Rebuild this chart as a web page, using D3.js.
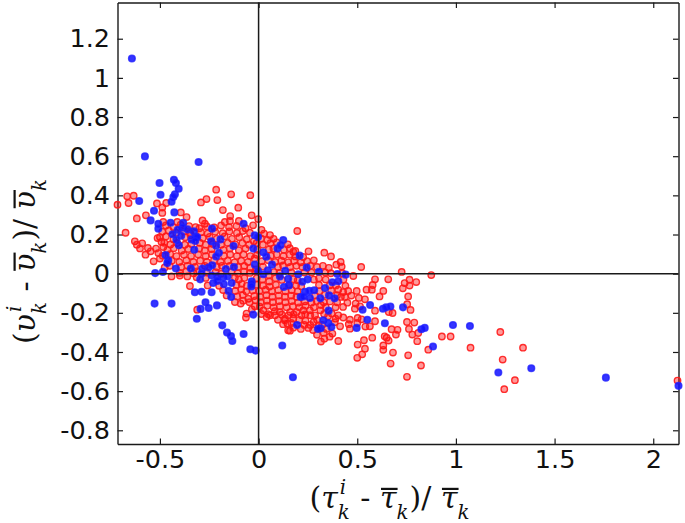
<!DOCTYPE html>
<html>
<head>
<meta charset="utf-8">
<script src="https://cdn.jsdelivr.net/npm/d3@7"></script>
<style>
  html, body { margin: 0; padding: 0; background: #fff; }
  svg { display: block; }
</style>
</head>
<body>
<div id="chart"></div>
<script>
// values: [tau, v]
const bluePoints = [
  [-0.642,1.099],[-0.576,0.599],[-0.304,0.570],[-0.429,0.480],[-0.419,0.463],[-0.405,0.434],[-0.502,0.463],[-0.424,0.405],
  [-0.497,0.403],[-0.432,0.391],[-0.441,0.367],[-0.605,0.371],[-0.530,0.321],[-0.427,0.313],[-0.547,0.272],[-0.508,0.255],
  [-0.446,0.260],[-0.382,0.260],[-0.508,0.230],[-0.385,0.235],[-0.410,0.224],[-0.360,0.226],[-0.436,0.201],[-0.392,0.194],
  [-0.328,0.216],[-0.318,0.187],[-0.416,0.173],[-0.340,0.175],[-0.311,0.187],[-0.321,0.167],[-0.404,0.145],[-0.236,0.230],
  [-0.240,0.165],[-0.193,0.175],[-0.215,0.143],[-0.127,0.141],[-0.326,0.122],[-0.201,0.107],[-0.215,0.088],[-0.471,0.095],
  [-0.458,0.068],[-0.463,0.054],[-0.419,0.026],[-0.343,0.026],[-0.285,0.026],[-0.253,0.031],[-0.235,0.043],[-0.166,0.024],
  [-0.125,0.034],[-0.524,0.003],[-0.485,0.009],[-0.289,0.000],[-0.296,-0.029],[-0.238,-0.009],[-0.209,-0.014],[-0.230,-0.048],
  [-0.209,-0.037],[-0.179,-0.020],[-0.157,-0.014],[-0.176,-0.054],[-0.137,-0.048],[-0.152,-0.088],[-0.139,-0.119],[-0.323,-0.095],
  [-0.289,-0.092],[-0.238,-0.095],[-0.527,-0.153],[-0.441,-0.153],[-0.269,-0.146],[-0.294,-0.180],[-0.253,-0.175],[-0.211,-0.162],
  [-0.313,-0.230],[-0.184,-0.264],[-0.160,-0.301],[-0.140,-0.318],[-0.133,-0.344],[-0.076,-0.308],[-0.042,-0.386],[-0.015,-0.393],
  [-0.027,-0.209],[0.120,-0.367],[-0.076,0.255],[-0.020,0.196],[-0.003,0.187],[-0.027,0.128],[0.024,0.109],[0.039,0.087],
  [-0.019,0.046],[-0.003,0.014],[-0.035,-0.039],[-0.035,-0.051],[-0.037,-0.065],[0.024,-0.003],[0.047,0.017],[0.068,0.046],
  [0.096,0.128],[0.111,0.145],[0.125,0.172],[0.108,-0.014],[0.135,0.014],[0.128,-0.068],[0.150,-0.026],[0.154,-0.060],
  [0.208,0.092],[0.244,0.031],[0.201,-0.003],[0.306,0.010],[0.249,-0.029],[0.222,-0.041],[0.399,-0.002],[0.441,-0.005],
  [0.404,-0.039],[0.374,-0.044],[0.337,-0.073],[0.235,-0.092],[0.282,-0.085],[0.257,-0.088],[0.213,-0.119],[0.227,-0.117],
  [0.260,-0.124],[0.313,-0.126],[0.357,-0.111],[0.385,-0.126],[0.355,-0.189],[0.527,-0.184],[0.565,-0.160],[0.630,-0.179],
  [0.646,-0.172],[0.668,-0.168],[0.732,-0.172],[0.551,-0.235],[0.640,-0.253],[0.497,-0.277],[0.328,-0.238],[0.353,-0.252],
  [0.369,-0.272],[0.315,-0.279],[0.301,-0.282],[0.195,-0.262],[0.174,-0.529],[0.825,-0.284],[0.842,-0.277],[0.884,-0.372],
  [0.985,-0.262],[1.071,-0.267],[1.215,-0.505],[1.382,-0.483],[1.760,-0.531],[2.128,-0.573]
];

const redOuter = [
  [0.875,-0.007],[0.929,-0.321],[0.973,-0.321],[0.860,-0.388],[0.823,-0.469],[1.074,-0.378],[1.225,-0.298],[1.340,-0.378],
  [1.237,-0.439],[1.299,-0.544],[1.245,-0.590],[2.123,-0.546],[0.196,0.218],[0.253,0.114],[0.186,0.116],[0.333,0.107],
  [0.367,0.088],[0.416,0.060],[0.394,0.046],[0.421,0.036],[0.520,0.034],[0.480,-0.012],[0.590,-0.029],[0.578,-0.058],
  [0.547,-0.082],[0.574,-0.082],[0.657,-0.029],[0.725,0.009],[0.765,-0.031],[0.799,-0.043],[0.740,-0.048],[0.731,-0.075],
  [0.765,-0.061],[0.632,-0.088],[0.613,-0.116],[0.758,-0.116],[0.497,-0.088],[0.454,-0.088],[0.429,-0.094],[0.404,-0.082],
  [0.417,-0.119],[0.438,-0.119],[0.508,-0.124],[0.539,-0.131],[0.492,-0.153],[0.514,-0.167],[0.488,-0.179],[0.590,-0.189],
  [0.679,-0.201],[0.753,-0.156],[0.770,-0.185],[0.660,-0.196],[0.502,-0.226],[0.522,-0.233],[0.590,-0.243],[0.564,-0.269],
  [0.541,-0.270],[0.500,-0.252],[0.752,-0.247],[0.789,-0.250],[0.674,-0.284],[0.704,-0.287],[0.696,-0.311],[0.762,-0.282],
  [0.779,-0.311],[0.809,-0.303],[0.804,-0.345],[0.649,-0.327],[0.639,-0.320],[0.576,-0.327],[0.659,-0.342],[0.534,-0.340],
  [0.502,-0.362],[0.539,-0.383],[0.632,-0.367],[0.632,-0.389],[0.525,-0.412],[0.500,-0.430],[0.681,-0.403],[0.758,-0.417],
  [0.669,-0.459],[0.752,-0.527],[0.404,-0.344],[0.316,-0.347],[0.333,-0.332],[0.374,-0.306],[0.252,-0.277],[0.159,-0.291],
  [0.146,-0.255],[0.176,-0.230],[0.218,-0.213],[0.279,-0.247],[0.304,-0.264],[0.413,-0.269],[0.463,-0.281],[0.457,-0.258],
  [0.429,-0.224],[0.463,-0.235],[0.404,-0.213],[0.428,-0.170],[0.371,-0.204],[0.313,-0.187],[0.286,-0.213],[0.260,-0.187],
  [0.227,-0.187],[0.193,-0.196],[0.151,-0.213],[0.134,-0.230],[0.108,-0.196],[0.058,-0.213],[0.041,-0.221],
  [-0.715,0.352],[-0.666,0.395],[-0.633,0.398],[-0.659,0.361],[-0.617,0.282],[-0.571,0.298],[-0.515,0.359],[-0.468,0.361],
  [-0.488,0.338],[-0.488,0.310],[-0.674,0.209],[-0.627,0.165],[-0.617,0.148],[-0.590,0.155],[-0.601,0.129],[-0.561,0.131],
  [-0.547,0.114],[-0.573,0.097],[-0.532,0.063],[-0.508,0.105],[-0.500,0.077],[-0.292,0.364],[-0.264,0.381],[-0.215,0.429],
  [-0.209,0.376],[-0.139,0.405],[-0.042,0.401],[-0.181,0.325],[-0.103,0.337],[-0.144,0.294],[-0.100,0.269],[-0.035,0.298],
  [-0.002,0.279],[0.015,0.224],[-0.145,0.269],[-0.171,0.264],[-0.394,0.313],[-0.365,0.289],[-0.412,0.264],[-0.284,0.272],
  [-0.272,0.255],[-0.319,0.238],[-0.483,0.264],[-0.500,0.187],[-0.492,0.162],[-0.483,0.136],[-0.441,-0.014],[-0.399,-0.010],
  [-0.348,-0.063],[-0.361,-0.014],[-0.311,-0.184],[-0.162,-0.111],[-0.120,-0.145],[-0.091,-0.153],[-0.061,-0.204],[-0.064,-0.224],
  [-0.019,-0.167],[0.024,-0.187],[0.049,-0.207],[0.083,-0.213],[0.133,-0.238],[0.150,-0.289],[-0.052,-0.128]
];

// the dense part of the cloud, read by eye row by row
const redCloud = [
  [-0.470,0.246],[-0.432,0.238],[-0.395,0.250],[-0.352,0.243],[-0.300,0.232],[-0.262,0.241],[-0.225,0.236],[-0.190,0.246],[-0.150,0.238],[-0.112,0.244],[-0.066,0.232],[-0.028,0.247],
  [-0.488,0.214],[-0.455,0.221],[-0.418,0.209],[-0.378,0.216],[-0.346,0.206],[-0.292,0.212],[-0.258,0.205],[-0.220,0.214],[-0.182,0.207],[-0.148,0.216],[-0.110,0.208],[-0.080,0.218],[-0.044,0.209],[0.028,0.205],[0.058,0.197],
  [-0.512,0.182],[-0.470,0.190],[-0.432,0.176],[-0.372,0.186],[-0.345,0.196],[-0.283,0.182],[-0.248,0.188],[-0.212,0.178],[-0.172,0.190],[-0.135,0.178],[-0.098,0.186],[-0.060,0.176],[-0.024,0.165],[0.012,0.180],[0.045,0.172],[0.076,0.178],
  [-0.478,0.158],[-0.447,0.149],[-0.412,0.156],[-0.374,0.148],[-0.340,0.152],[-0.298,0.158],[-0.268,0.148],[-0.232,0.152],[-0.190,0.148],[-0.156,0.157],[-0.118,0.150],[-0.082,0.156],[-0.048,0.148],[-0.010,0.156],[0.022,0.148],[0.060,0.156],[0.092,0.160],[0.148,0.150],
  [-0.520,0.128],[-0.462,0.122],[-0.430,0.130],[-0.390,0.118],[-0.356,0.126],[-0.302,0.128],[-0.272,0.118],[-0.238,0.126],[-0.178,0.122],[-0.146,0.128],[-0.100,0.120],[-0.066,0.128],[-0.006,0.122],[0.052,0.124],[0.075,0.128],[0.128,0.122],[0.158,0.130],[0.176,0.112],
  [-0.486,0.092],[-0.448,0.100],[-0.416,0.090],[-0.378,0.096],[-0.342,0.090],[-0.306,0.098],[-0.268,0.090],[-0.236,0.098],[-0.176,0.092],[-0.144,0.098],[-0.110,0.090],[-0.076,0.098],[-0.042,0.090],[-0.008,0.096],[0.062,0.092],[0.092,0.098],[0.126,0.090],[0.158,0.096],[0.186,0.088],[0.226,0.085],
  [-0.440,0.066],[-0.402,0.060],[-0.366,0.068],[-0.330,0.060],[-0.296,0.066],[-0.262,0.060],[-0.226,0.068],[-0.192,0.060],[-0.156,0.066],[-0.122,0.058],[-0.088,0.066],[-0.054,0.060],[-0.020,0.078],[0.016,0.064],[0.050,0.068],[0.084,0.060],[0.116,0.066],[0.150,0.058],[0.180,0.066],[0.214,0.058],[0.246,0.064],[0.280,0.068],
  [-0.476,0.032],[-0.450,0.040],[-0.392,0.034],[-0.360,0.040],[-0.322,0.034],[-0.272,0.040],[-0.212,0.034],[-0.186,0.040],[-0.146,0.040],[-0.104,0.034],[-0.072,0.040],[-0.042,0.030],[-0.012,0.022],[0.022,0.036],[0.098,0.034],[0.124,0.042],[0.160,0.034],[0.192,0.040],[0.222,0.034],[0.262,0.040],[0.296,0.034],[0.326,0.040],[0.356,0.030],
  [-0.400,0.004],[-0.366,0.012],[-0.330,0.002],[-0.312,0.012],[-0.262,0.006],[-0.218,0.008],[-0.190,0.000],[-0.138,0.008],[-0.106,0.002],[-0.074,0.010],[-0.044,0.004],[-0.018,0.012],[0.052,-0.008],[0.078,0.008],[0.106,0.004],[0.166,0.006],[0.232,0.006],[0.268,0.006],[0.338,0.006],[0.366,0.002],[0.424,0.002],
  [-0.314,-0.018],[-0.268,-0.022],[-0.120,-0.020],[-0.100,-0.030],[-0.072,-0.022],[-0.010,-0.024],[0.020,-0.030],[0.054,-0.040],[0.086,-0.024],[0.118,-0.032],[0.176,-0.028],[0.198,-0.034],[0.280,-0.030],[0.306,-0.024],[0.340,-0.030],[0.430,-0.030],
  [-0.258,-0.060],[-0.200,-0.062],[-0.112,-0.058],[-0.086,-0.052],[-0.060,-0.062],[-0.008,-0.056],[0.022,-0.060],[0.056,-0.066],[0.088,-0.056],[0.154,-0.058],[0.190,-0.060],[0.216,-0.064],[0.306,-0.058],[0.360,-0.060],[0.392,-0.060],[0.440,-0.062],
  [-0.180,-0.084],[-0.118,-0.088],[-0.088,-0.080],[-0.062,-0.090],[-0.030,-0.086],[0.004,-0.088],[0.036,-0.082],[0.068,-0.090],[0.100,-0.084],[0.136,-0.090],[0.168,-0.084],[0.198,-0.090],[0.308,-0.090],[0.368,-0.086],[0.398,-0.110],[0.470,-0.112],
  [-0.108,-0.116],[-0.080,-0.108],[-0.022,-0.114],[0.008,-0.118],[0.040,-0.110],[0.070,-0.118],[0.102,-0.112],[0.134,-0.118],[0.166,-0.112],[0.192,-0.118],[0.286,-0.112],[0.336,-0.108],
  [-0.078,-0.138],[-0.046,-0.146],[-0.016,-0.136],[0.010,-0.146],[0.042,-0.138],[0.072,-0.146],[0.104,-0.140],[0.136,-0.146],[0.168,-0.140],[0.200,-0.148],[0.234,-0.142],[0.268,-0.148],[0.294,-0.140],[0.330,-0.146],[0.362,-0.142],[0.398,-0.146],[0.450,-0.148],
  [-0.034,-0.182],[0.006,-0.168],[0.044,-0.164],[0.076,-0.172],[0.108,-0.166],[0.142,-0.172],[0.174,-0.166],[0.206,-0.172],[0.238,-0.164],[0.280,-0.172],[0.316,-0.160],[0.340,-0.170],[0.390,-0.172],
  [0.014,-0.206],[0.082,-0.192],[0.118,-0.208],[0.160,-0.196],[0.178,-0.208],[0.236,-0.208],[0.262,-0.212],[0.332,-0.206],[0.352,-0.218],[0.390,-0.230],
  [0.098,-0.236],[0.124,-0.258],[0.166,-0.252],[0.206,-0.236],[0.238,-0.240],[0.262,-0.262],[0.296,-0.236],[0.322,-0.262],[0.386,-0.248],[0.344,-0.282],
  [0.176,-0.276],[0.214,-0.282],[0.232,-0.262],[0.276,-0.288],[0.330,-0.302],[0.296,-0.312],[0.360,-0.322]
];

const xTicks = [-0.5, 0, 0.5, 1, 1.5, 2];
const yTicks = [-0.8, -0.6, -0.4, -0.2, 0, 0.2, 0.4, 0.6, 0.8, 1, 1.2];

const chartWidth = 685, chartHeight = 523;
const plotLeft = 117.5, plotRight = 678.5, plotTop = 2.5, plotBottom = 444;

const svg = d3.select('#chart').append('svg')
  .attr('width', chartWidth)
  .attr('height', chartHeight);

const xScale = d3.scaleLinear().domain([-0.715, 2.128]).range([plotLeft, plotRight]);
const yScale = d3.scaleLinear().domain([-0.87, 1.385]).range([plotBottom, plotTop]);

const inkColor = '#1a1a1a';

// all four sides have inward ticks, only bottom and left are labelled
function drawAxis(axis, dx, dy) {
  const g = svg.append('g')
    .attr('class', 'axis')
    .attr('transform', `translate(${dx},${dy})`)
    .call(axis);
  g.selectAll('path').attr('stroke', inkColor).attr('stroke-width', 1.4);
  g.selectAll('line').attr('stroke', inkColor).attr('stroke-width', 1.2);
  g.selectAll('text')
    .attr('fill', '#111')
    .style('font-family', '"DejaVu Sans"')
    .style('font-size', '25.5px');
  return g;
}

drawAxis(d3.axisBottom(xScale).tickValues(xTicks).tickSizeInner(-5.5).tickSizeOuter(0).tickPadding(6).tickFormat(d => String(d)), 0, plotBottom);
drawAxis(d3.axisLeft(yScale).tickValues(yTicks).tickSizeInner(-5.5).tickSizeOuter(0).tickPadding(7.5).tickFormat(d => String(d)), plotLeft, 0);
drawAxis(d3.axisTop(xScale).tickValues(xTicks).tickSizeInner(-5.5).tickSizeOuter(0).tickFormat(''), 0, plotTop);
drawAxis(d3.axisRight(yScale).tickValues(yTicks).tickSizeInner(-5.5).tickSizeOuter(0).tickFormat(''), plotRight, 0);

const redAll = redOuter.concat(redCloud);

svg.append('g').selectAll('circle')
  .data(redAll)
  .enter()
  .append('circle')
    .attr('cx', d => xScale(d[0]))
    .attr('cy', d => yScale(d[1]))
    .attr('r', 3.2)
    .attr('fill', '#ff0000')
    .attr('fill-opacity', 0.4)
    .attr('stroke', '#ff1a1a')
    .attr('stroke-opacity', 0.9)
    .attr('stroke-width', 1.4);

svg.append('g').selectAll('circle')
  .data(bluePoints)
  .enter()
  .append('circle')
    .attr('cx', d => xScale(d[0]))
    .attr('cy', d => yScale(d[1]))
    .attr('r', 3.3)
    .attr('fill', '#1010ff')
    .attr('fill-opacity', 0.85)
    .attr('stroke', '#2020ff')
    .attr('stroke-opacity', 0.8)
    .attr('stroke-width', 1.5);

// zero lines sit on top of the points
svg.append('line')
  .attr('x1', xScale(0)).attr('x2', xScale(0))
  .attr('y1', plotTop).attr('y2', plotBottom)
  .attr('stroke', inkColor).attr('stroke-width', 1.5);
svg.append('line')
  .attr('x1', plotLeft).attr('x2', plotRight)
  .attr('y1', yScale(0)).attr('y2', yScale(0))
  .attr('stroke', inkColor).attr('stroke-width', 1.5);

// math label built piece by piece: bar = overbar, sub and sup stack on each other
function mathLabel(parent, parts, size, barHeight) {
  const g = parent.append('g');
  let x = 0;
  parts.forEach(p => {
    const piece = (txt, px, py, fs, upright) => g.append('text')
      .attr('x', px).attr('y', py)
      .style('font-family', '"DejaVu Serif"')
      .style('font-style', upright ? 'normal' : 'italic')
      .style('font-size', fs + 'px')
      .attr('fill', '#111')
      .style('white-space', 'pre')
      .text(txt);
    if (p.sub) {
      const s = piece(p.sub, x, size * 0.38, size * 0.66);
      let w = s.node().getComputedTextLength();
      if (p.sup) {
        const u = piece(p.sup, x + 2, -size * 0.46, size * 0.66);
        w = Math.max(w, u.node().getComputedTextLength() + 2);
      }
      x += w + 1;
    } else {
      const t = piece(p.t, x, 0, size, p.upright);
      const w = t.node().getComputedTextLength();
      if (p.bar) {
        g.append('line')
          .attr('x1', x + 1).attr('x2', x + w + 1)
          .attr('y1', -size * barHeight).attr('y2', -size * barHeight)
          .attr('stroke', '#111').attr('stroke-width', 2.2);
      }
      x += w;
    }
  });
  return { g, w: x };
}

const xLabel = mathLabel(svg, [
  { t: '(', upright: true }, { t: '\u03c4' }, { sub: 'k', sup: 'i' }, { t: ' - ', upright: true },
  { t: '\u03c4', bar: true }, { sub: 'k' }, { t: ')/ ', upright: true }, { t: '\u03c4', bar: true }, { sub: 'k' }
], 30, 0.62);
xLabel.g.attr('transform', `translate(${390 - xLabel.w / 2},507.5)`);

const yLabel = mathLabel(svg, [
  { t: '(', upright: true }, { t: '\u03c5' }, { sub: 'k', sup: 'i' }, { t: ' - ', upright: true },
  { t: '\u03c5', bar: true }, { sub: 'k' }, { t: ')/ ', upright: true }, { t: '\u03c5', bar: true }, { sub: 'k' }
], 30, 0.68);
yLabel.g.attr('transform', `translate(35,${261 + yLabel.w / 2}) rotate(-90)`);
</script>
</body>
</html>
